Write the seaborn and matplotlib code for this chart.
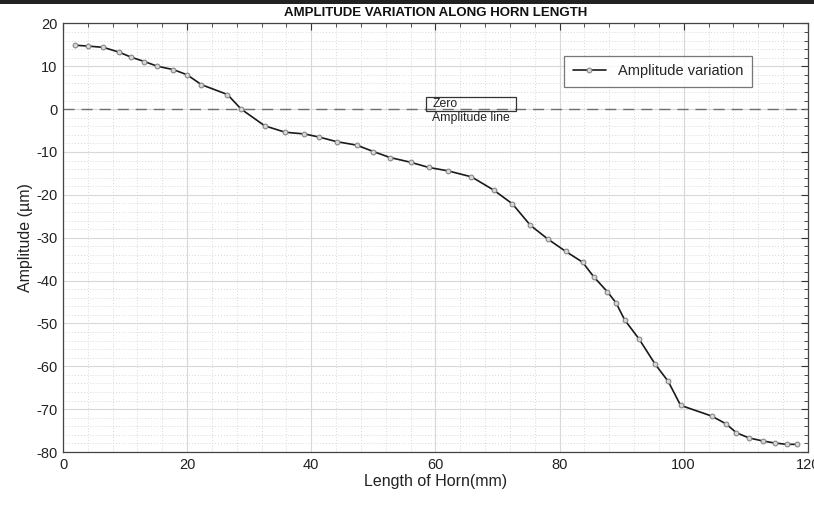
import matplotlib
matplotlib.use("Agg")
import matplotlib.pyplot as plt
import seaborn as sns
import pandas as pd
from matplotlib.patches import Rectangle
from matplotlib.ticker import MultipleLocator

length_mm = [2, 4, 6.5, 9, 11, 13.1, 15.2, 17.8, 20, 22.3, 26.5, 28.7, 32.5, 35.8,
             38.9, 41.2, 44.1, 47.3, 50, 52.7, 56, 58.9, 62, 65.8, 69.4, 72.4, 75.3,
             78.1, 81, 83.7, 85.5, 87.7, 89.1, 90.5, 92.8, 95.4, 97.5, 99.5, 104.5,
             106.8, 108.5, 110.5, 112.7, 114.7, 116.6, 118.2]
amplitude_um = [14.9, 14.7, 14.4, 13.3, 12.1, 11.1, 10.0, 9.2, 8.0, 5.7, 3.4, 0.0, -3.9,
                -5.4, -5.8, -6.5, -7.6, -8.4, -9.9, -11.3, -12.4, -13.6, -14.4, -15.8,
                -18.9, -22.1, -27.1, -30.3, -33.2, -35.7, -39.1, -42.6, -45.2, -49.2,
                -53.6, -59.5, -63.5, -69.1, -71.6, -73.4, -75.5, -76.7, -77.4, -77.9,
                -78.2, -78.2]
series_name = "Amplitude variation"
title = "AMPLITUDE VARIATION ALONG HORN LENGTH"
x_label = "Length of Horn(mm)"
y_label = "Amplitude (\u00b5m)"

df = pd.DataFrame({"x": length_mm, "y": amplitude_um})

sns.set_theme(style="white")
plt.rcParams["font.family"] = ["Liberation Sans", "DejaVu Sans"]
plt.rcParams["axes.unicode_minus"] = False

fig = plt.figure(figsize=(8.14, 5.19), dpi=100)
ax = fig.add_axes([0.0774, 0.129, 0.915, 0.826])

ax.axhline(0, color="#707070", linestyle=(0, (8, 5)), linewidth=1.0, zorder=2)

sns.lineplot(data=df, x="x", y="y", ax=ax, color="#1a1a1a", linewidth=1.2,
             marker="o", markersize=3.4, markerfacecolor="#d8d8d8",
             markeredgecolor="#888888", markeredgewidth=0.8,
             label=series_name, zorder=3)

ax.set_xlim(0, 120)
ax.set_ylim(-80, 20)
ax.xaxis.set_major_locator(MultipleLocator(20))
ax.xaxis.set_minor_locator(MultipleLocator(4))
ax.yaxis.set_major_locator(MultipleLocator(10))
ax.yaxis.set_minor_locator(MultipleLocator(2))
ax.grid(which="major", color="#d8d8d8", linewidth=0.8, linestyle="-")
ax.grid(which="minor", color="#d8d8d8", linewidth=0.7, linestyle=(0, (1, 2)))
ax.set_axisbelow(True)
ax.tick_params(which="both", direction="in", top=True, right=True, color="#333333",
               labelsize=10.5, labelcolor="#222222", pad=4)
ax.tick_params(which="major", length=5, width=0.8)
ax.tick_params(which="minor", length=3, width=0.6)
for s in ax.spines.values():
    s.set_color("#444444")
    s.set_linewidth(0.9)

ax.set_xlabel(x_label, fontsize=11.5, color="#222222", labelpad=2)
ax.set_ylabel(y_label, fontsize=11.5, color="#222222", labelpad=2)
ax.set_title(title, fontsize=9.5, fontweight="bold", color="#111111", pad=5)

ax.add_patch(Rectangle((58.5, -0.5), 14.5, 3.3, fill=False, edgecolor="#333333",
                       linewidth=0.9, zorder=4))
ax.text(59.5, 1.1, "Zero", fontsize=8.8, va="center", ha="left", color="#222222", zorder=5)
ax.text(59.5, -2.0, "Amplitude line", fontsize=8.8, va="center", ha="left", color="#222222", zorder=5)

leg = ax.legend(loc="upper right", bbox_to_anchor=(0.925, 0.925), borderaxespad=0,
                frameon=True, fancybox=False, fontsize=10.5, handlelength=2.3,
                borderpad=0.6, edgecolor="#555555")
leg.get_frame().set_linewidth(0.9)

fig.add_artist(Rectangle((0, 0.993), 1, 0.007, transform=fig.transFigure,
                         facecolor="#222222", edgecolor="none"))

fig.savefig("out.png", dpi=100)
